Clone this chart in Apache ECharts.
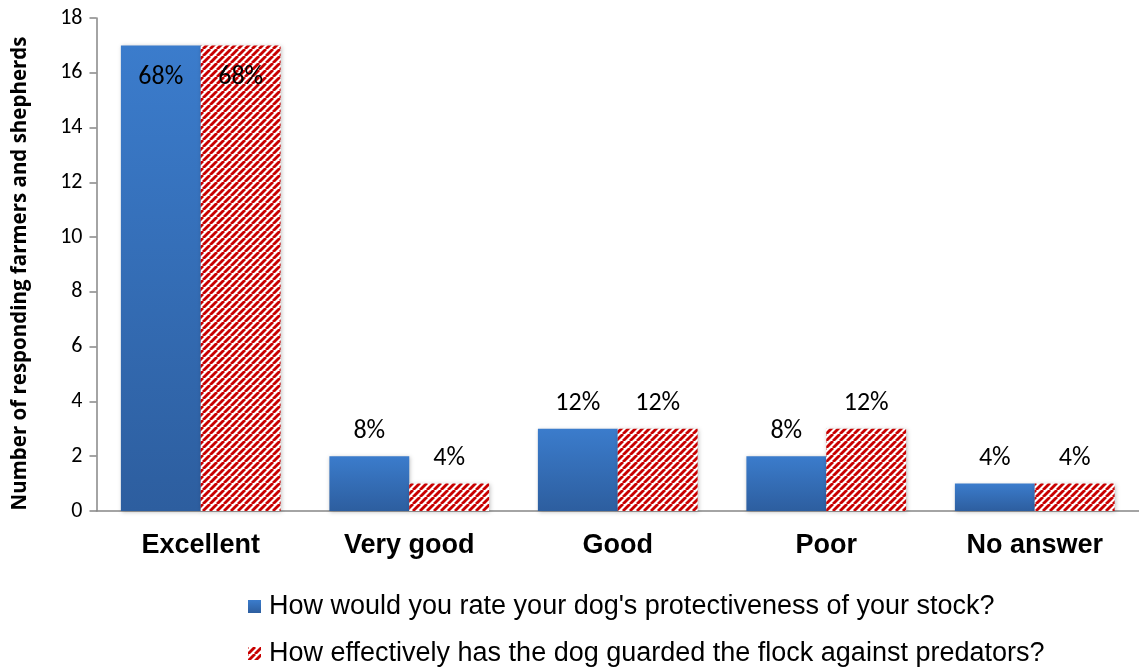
<!DOCTYPE html>
<html><head><meta charset="utf-8">
<script src="https://cdn.jsdelivr.net/npm/echarts@6/dist/echarts.min.js"></script>
<style>html,body{margin:0;padding:0;background:#fff}#c{width:1139px;height:668px}</style>
</head><body><div id="c"></div>
<script>
const categories = ['Excellent', 'Very good', 'Good', 'Poor', 'No answer'];
const seriesNames = ["How would you rate your dog's protectiveness of your stock?", "How effectively has the dog guarded the flock against predators?"];
const protectiveness = [17, 2, 3, 2, 1];
const guarded = [17, 1, 3, 3, 1];
const protectLabels = ['68%', '8%', '12%', '8%', '4%'];
const guardLabels = ['68%', '4%', '12%', '12%', '4%'];
const yTicks = [0, 2, 4, 6, 8, 10, 12, 14, 16, 18];
const yAxisTitle = 'Number of responding farmers and shepherds';

const T = 7;
const pc = document.createElement('canvas');
pc.width = T; pc.height = T;
const g = pc.getContext('2d');
g.fillStyle = '#ffffff'; g.fillRect(0, 0, T, T);
g.strokeStyle = '#c80000'; g.lineWidth = 2.8;
for (let k = -T; k <= 2 * T; k += T) {
  g.beginPath(); g.moveTo(k, T); g.lineTo(k + T, 0); g.stroke();
}
const stripe = { image: pc, repeat: 'repeat' };

const LBL_FONT = 'Carlito, Calibri, "Open Sans", sans-serif';
const chart = echarts.init(document.getElementById('c'));
function lbl(arr, i) {
  return {
    show: true, position: i === 0 ? 'insideTop' : 'top', distance: i === 0 ? 19 : 12,
    formatter: p => arr[p.dataIndex],
    fontFamily: LBL_FONT, fontSize: 26, color: '#000'
  };
}
const legendText = { fontFamily: 'Arial, "Liberation Sans", sans-serif', fontSize: 27, color: '#000', padding: [0, 0, 0, 3] };
chart.setOption({
  animation: false,
  grid: { left: 96.5, width: 1045, top: 18, bottom: 157 },
  graphic: [{
    type: 'text', x: 20, y: 273.5, rotation: Math.PI / 2,
    style: { text: yAxisTitle, fontFamily: '"Open Sans", sans-serif', fontWeight: 'bold', fontSize: 20.5,
      fill: '#000', align: 'center', verticalAlign: 'middle' }
  }],
  legend: [
    { left: 248, top: 593, padding: 0, itemGap: 0, itemWidth: 13, itemHeight: 13, icon: 'rect',
      textStyle: legendText, data: [seriesNames[0]] },
    { left: 248, top: 640, padding: 0, itemGap: 0, itemWidth: 13, itemHeight: 13, icon: 'rect',
      textStyle: legendText, data: [seriesNames[1]] }
  ],
  xAxis: {
    type: 'category', data: categories,
    axisLine: { lineStyle: { color: '#868686', width: 1.5 } },
    axisTick: { show: false },
    axisLabel: { fontFamily: 'Arial, "Liberation Sans", sans-serif', fontWeight: 'bold', fontSize: 27, color: '#000', margin: 21 }
  },
  yAxis: {
    type: 'value', min: yTicks[0], max: yTicks[yTicks.length - 1], interval: 2,
    axisLine: { show: true, lineStyle: { color: '#868686', width: 1.5 } },
    axisTick: { show: true, length: 7, lineStyle: { color: '#868686', width: 1.5 } },
    splitLine: { show: false },
    axisLabel: { fontFamily: LBL_FONT, fontSize: 22, color: '#000', margin: 14 }
  },
  series: [
    {
      name: seriesNames[0], type: 'bar', data: protectiveness.map((v, i) => ({ value: v, label: lbl(protectLabels, i) })),
      barGap: '0%', barCategoryGap: '23.4%',
      itemStyle: {
        color: new echarts.graphic.LinearGradient(0, 0, 0, 1, [
          { offset: 0, color: '#3b7ccc' }, { offset: 1, color: '#2d5e9f' }
        ]),
        shadowColor: 'rgba(0,0,0,0.25)', shadowBlur: 4, shadowOffsetX: 1, shadowOffsetY: 1
      }
    },
    {
      name: seriesNames[1], type: 'bar', data: guarded.map((v, i) => ({ value: v, label: lbl(guardLabels, i) })),
      itemStyle: { color: stripe, shadowColor: 'rgba(0,0,0,0.25)', shadowBlur: 4, shadowOffsetX: 1, shadowOffsetY: 1 }
    }
  ]
});
</script></body></html>
